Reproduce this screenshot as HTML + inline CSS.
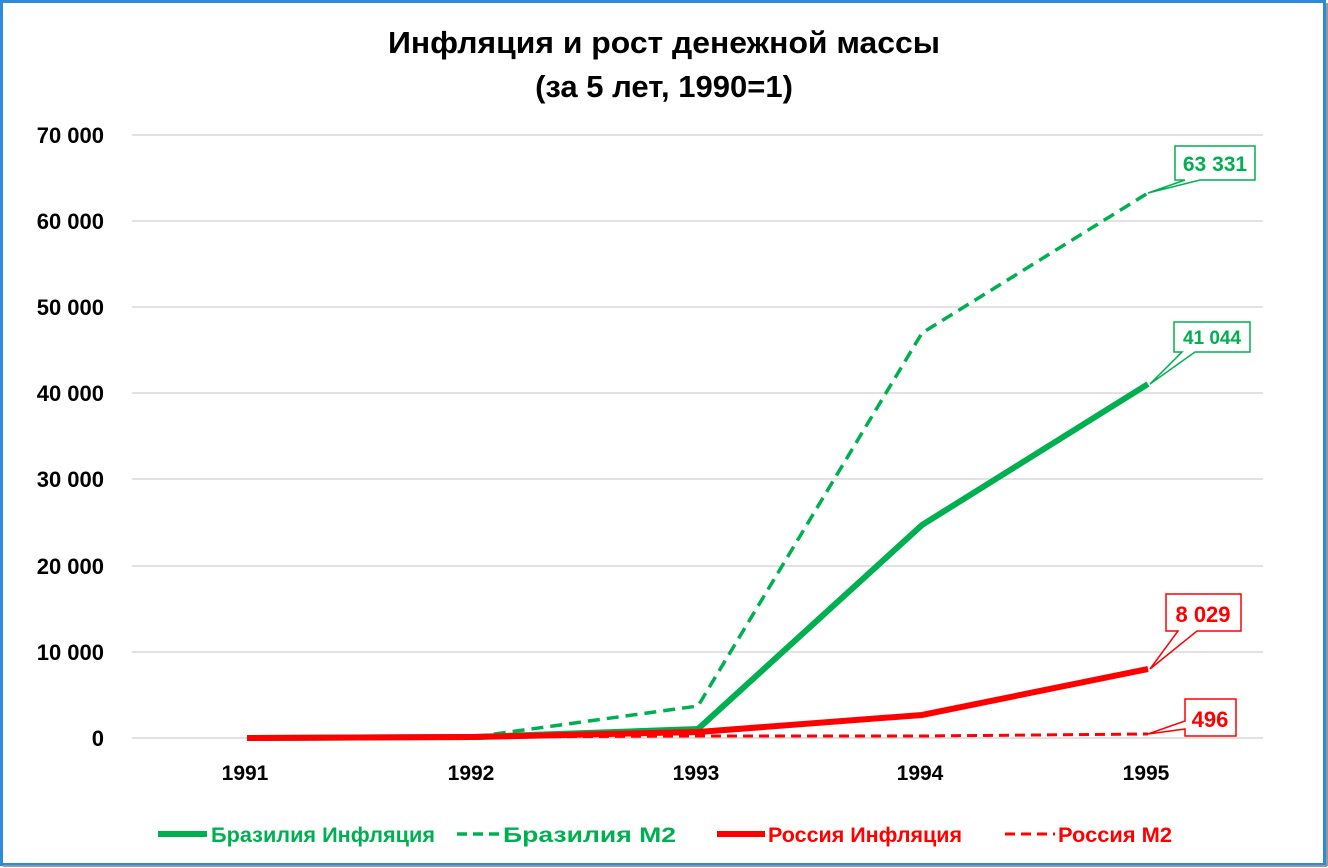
<!DOCTYPE html>
<html><head><meta charset="utf-8"><style>
html,body{margin:0;padding:0;background:#fff}
svg{display:block}
text{font-family:"Liberation Sans","DejaVu Sans",sans-serif;font-weight:bold}
</style></head><body>
<svg width="1328" height="868" viewBox="0 0 1328 868" xmlns="http://www.w3.org/2000/svg">
<rect x="0" y="0" width="1328" height="868" fill="#fff"/>
<rect x="1.5" y="1.5" width="1323" height="863" fill="none" stroke="#2f8ad8" stroke-width="3"/>
<line x1="3" y1="866" x2="1327" y2="866" stroke="#999" stroke-width="2"/>
<line x1="1327" y1="3" x2="1327" y2="866" stroke="#999" stroke-width="2"/>
<text x="664" y="53" font-size="31" text-anchor="middle" fill="#000" textLength="552" lengthAdjust="spacingAndGlyphs">Инфляция и рост денежной массы</text>
<text x="664" y="97" font-size="31" text-anchor="middle" fill="#000">(за 5 лет, 1990=1)</text>
<g stroke="#d9d9d9" stroke-width="1.5">
<line x1="132" y1="135" x2="1263" y2="135"/>
<line x1="132" y1="221" x2="1263" y2="221"/>
<line x1="132" y1="307" x2="1263" y2="307"/>
<line x1="132" y1="393" x2="1263" y2="393"/>
<line x1="132" y1="479" x2="1263" y2="479"/>
<line x1="132" y1="566" x2="1263" y2="566"/>
<line x1="132" y1="652" x2="1263" y2="652"/>
<line x1="132" y1="738" x2="1263" y2="738"/>
</g>
<g font-size="22" text-anchor="end" fill="#000">
<text x="104" y="143">70 000</text>
<text x="104" y="229">60 000</text>
<text x="104" y="315">50 000</text>
<text x="104" y="401">40 000</text>
<text x="104" y="487">30 000</text>
<text x="104" y="574">20 000</text>
<text x="104" y="660">10 000</text>
<text x="104" y="746">0</text>
</g>
<g font-size="21" text-anchor="middle" fill="#000">
<text x="245" y="780">1991</text>
<text x="471" y="780">1992</text>
<text x="696" y="780">1993</text>
<text x="920" y="780">1994</text>
<text x="1146" y="780">1995</text>
</g>
<polyline points="247,738 473,737 698,736 922,736 1148,734" fill="none" stroke="#ff0000" stroke-width="3" stroke-dasharray="10,6"/>
<polyline points="247,738 473,737 698,706 922,333 1148,193" fill="none" stroke="#00b050" stroke-width="3.5" stroke-dasharray="12,7"/>
<polyline points="247,738 473,737 698,729 922,525 1148,384" fill="none" stroke="#00b050" stroke-width="6"/>
<polyline points="247,738 473,737 698,732 922,715 1148,669" fill="none" stroke="#ff0000" stroke-width="6"/>
<g fill="#fff" stroke-width="1.5">
<path d="M1175,146 H1255 V180 H1200 L1148,193 L1185,180 H1175 Z" stroke="#00b050"/>
<path d="M1174,322 H1250 V352 H1195 L1150,384 L1182,352 H1174 Z" stroke="#00b050"/>
<path d="M1166,594 H1241 V631 H1197 L1150,669 L1178,631 H1166 Z" stroke="#ff0000"/>
<path d="M1185,699 H1236 V736 H1185 V729 L1148,734 L1185,721 Z" stroke="#ff0000"/>
</g>
<text x="1215" y="171" font-size="21" text-anchor="middle" fill="#00b050">63 331</text>
<text x="1212" y="344" font-size="19" text-anchor="middle" fill="#00b050">41 044</text>
<text x="1203" y="622" font-size="22" text-anchor="middle" fill="#ff0000">8 029</text>
<text x="1210" y="727" font-size="22" text-anchor="middle" fill="#ff0000">496</text>
<line x1="158" y1="834" x2="207" y2="834" stroke="#00b050" stroke-width="6"/>
<text x="211" y="842" font-size="21" fill="#00b050" textLength="224" lengthAdjust="spacingAndGlyphs">Бразилия Инфляция</text>
<line x1="457" y1="834" x2="500" y2="834" stroke="#00b050" stroke-width="3.5" stroke-dasharray="10,6"/>
<text x="503" y="842" font-size="21" fill="#00b050" textLength="173" lengthAdjust="spacingAndGlyphs">Бразилия М2</text>
<line x1="717" y1="834" x2="765" y2="834" stroke="#ff0000" stroke-width="6"/>
<text x="768" y="842" font-size="21" fill="#ff0000" textLength="194" lengthAdjust="spacingAndGlyphs">Россия Инфляция</text>
<line x1="1005" y1="834" x2="1055" y2="834" stroke="#ff0000" stroke-width="3" stroke-dasharray="10,6"/>
<text x="1058" y="842" font-size="21" fill="#ff0000" textLength="114" lengthAdjust="spacingAndGlyphs">Россия М2</text>
</svg>
</body></html>
